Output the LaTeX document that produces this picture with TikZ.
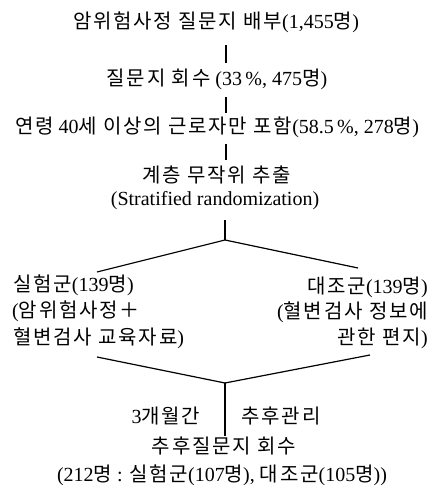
\documentclass[tikz,border=0pt]{standalone}
\usepackage{fontspec}
\setmainfont{Liberation Serif}
\newfontfamily\krfont[LetterSpace=9]{Noto Sans CJK KR}
\newcommand{\K}[1]{{\krfont #1}}
\tikzset{
  txt/.style={inner sep=0pt, font=\fontsize{20}{23}\selectfont},
  link/.style={line width=1.2pt}
}
\begin{document}
\begin{tikzpicture}[x=1pt,y=-1pt]
\useasboundingbox (0,0) rectangle (433,485);
% text nodes
\node[txt] (n1) at (216,22) {\K{암위험사정 질문지 배부}(1,455\K{명})};
\node[txt] (n2) at (217,79) {\K{질문지 회수} (33\,\%, 475\K{명})};
\node[txt] (n3) at (217,127) {\K{연령} 40\K{세 이상의 근로자만 포함}(58.5\,\%, 278\K{명})};
\node[txt] (n4) at (217,175) {\K{계층 무작위 추출}};
\node[txt] (n5) at (215,201) {(Stratified randomization)};
\node[txt,anchor=west] (l1) at (13,285) {\K{실험군}(139\K{명})};
\node[txt,anchor=west] (l2) at (12,311) {(\K{암위험사정＋}};
\node[txt,anchor=west] (l3) at (13,338) {\K{혈변검사 교육자료})};
\node[txt,anchor=east] (r1) at (428,287) {\K{대조군}(139\K{명})};
\node[txt,anchor=east] (r2) at (428,312) {(\K{혈변검사 정보에}};
\node[txt,anchor=east] (r3) at (428,338) {\K{관한 편지})};
\node[txt] (m1) at (166,416) {3\K{개월간}};
\node[txt] (m2) at (281,416) {\K{추후관리}};
\node[txt] (b1) at (224,446) {\K{추후질문지 회수}};
\node[txt] (b2) at (222,475) {(212\K{명} : \K{실험군}(107\K{명}), \K{대조군}(105\K{명}))};
% connector points
\coordinate (a1) at (226,45);  \coordinate (a2) at (226,63);
\coordinate (c1) at (226,97);  \coordinate (c2) at (226,113);
\coordinate (d1) at (226,144); \coordinate (d2) at (226,160);
\coordinate (t1) at (225,220); \coordinate (j1) at (225,240);
\coordinate (le) at (97,272);  \coordinate (re) at (358,268);
\coordinate (lb) at (97,357);  \coordinate (rb) at (370,355);
\coordinate (j2) at (225,383); \coordinate (e2) at (225,436);
% connectors
\draw[link] (a1) -- (a2);
\draw[link] (c1) -- (c2);
\draw[link] (d1) -- (d2);
\draw[link] (t1) -- (j1);
\draw[link] (le) -- (j1) -- (re);
\draw[link] (lb) -- (j2) -- (rb);
\draw[link] (j2) -- (e2);
\end{tikzpicture}
\end{document}
